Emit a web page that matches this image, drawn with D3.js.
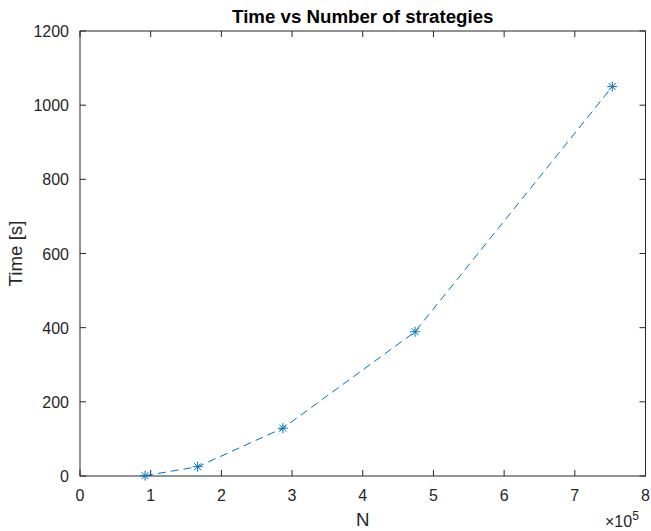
<!DOCTYPE html>
<html>
<head>
<meta charset="utf-8">
<script src="https://cdn.jsdelivr.net/npm/d3@7"></script>
<style>
body { margin: 0; background: #fff; }
text { font-family: "Liberation Sans", Arial, sans-serif; fill: #262626; }
</style>
</head>
<body>
<div id="chart"></div>
<script>
// N in units of 1e5, time in seconds
var nValues = [0.92, 1.665, 2.87, 4.74, 7.53];
var timeValues = [1, 25, 129, 389, 1050];
var xTicks = [0, 1, 2, 3, 4, 5, 6, 7, 8];
var yTicks = [0, 200, 400, 600, 800, 1000, 1200];

function mainInit() {
  var width = 651, height = 531;
  var m = {left: 80, right: 5.5, top: 31, bottom: 55};
  var svg = d3.select("#chart").append("svg")
    .attr("width", width).attr("height", height);

  var x = d3.scaleLinear().domain([0, 8]).range([m.left, width - m.right]);
  var y = d3.scaleLinear().domain([0, 1200]).range([height - m.bottom, m.top]);
  var axisColor = "#262626";
  var tickFont = "16px", labelFont = "18.7px";

  // box
  svg.append("rect")
    .attr("x", x(0)).attr("y", y(1200))
    .attr("width", x(8) - x(0)).attr("height", y(0) - y(1200))
    .attr("fill", "none").attr("stroke", axisColor).attr("stroke-width", 1);

  var g = svg.append("g");
  // x ticks (bottom and top, inward)
  xTicks.forEach(function(t) {
    g.append("line").attr("x1", x(t)).attr("x2", x(t))
      .attr("y1", y(0)).attr("y2", y(0) - 6).attr("stroke", axisColor);
    g.append("line").attr("x1", x(t)).attr("x2", x(t))
      .attr("y1", y(1200)).attr("y2", y(1200) + 6).attr("stroke", axisColor);
    g.append("text").attr("x", x(t)).attr("y", y(0) + 25)
      .attr("text-anchor", "middle").style("font-size", tickFont).text(t);
  });
  yTicks.forEach(function(t) {
    g.append("line").attr("x1", x(0)).attr("x2", x(0) + 6)
      .attr("y1", y(t)).attr("y2", y(t)).attr("stroke", axisColor);
    g.append("line").attr("x1", x(8)).attr("x2", x(8) - 6)
      .attr("y1", y(t)).attr("y2", y(t)).attr("stroke", axisColor);
    g.append("text").attr("x", x(0) - 11).attr("y", y(t) + 6)
      .attr("text-anchor", "end").style("font-size", tickFont).text(t);
  });

  // exponent label
  var ex = svg.append("text").attr("x", 605).attr("y", 527)
    .attr("text-anchor", "start").style("font-size", tickFont);
  ex.append("tspan").text("\u00d710");
  ex.append("tspan").attr("dy", -7).style("font-size", "12px").text("5");

  // titles
  svg.append("text").attr("x", (x(0) + x(8)) / 2).attr("y", 23)
    .attr("text-anchor", "middle").style("font-size", labelFont)
    .style("font-weight", "bold").style("fill", "#000")
    .text("Time vs Number of strategies");
  svg.append("text").attr("x", (x(0) + x(8)) / 2).attr("y", 526)
    .attr("text-anchor", "middle").style("font-size", labelFont).text("N");
  svg.append("text")
    .attr("transform", "translate(22," + ((y(0) + y(1200)) / 2) + ") rotate(-90)")
    .attr("text-anchor", "middle").style("font-size", labelFont).text("Time [s]");

  var pts = nValues.map(function(v, i) { return {n: v, t: timeValues[i]}; });
  var color = "#0072BD";

  var line = d3.line().x(function(d) { return x(d.n); }).y(function(d) { return y(d.t); });
  svg.append("path").datum(pts).attr("d", line)
    .attr("fill", "none").attr("stroke", color).attr("stroke-width", 1)
    .attr("stroke-dasharray", "8,5");

  // asterisk markers
  var r = 5;
  var mk = svg.selectAll(".mk").data(pts).enter().append("g")
    .attr("transform", function(d) { return "translate(" + x(d.n) + "," + y(d.t) + ")"; });
  [[-r, 0, r, 0], [0, -r, 0, r], [-r * 0.7, -r * 0.7, r * 0.7, r * 0.7], [-r * 0.7, r * 0.7, r * 0.7, -r * 0.7]]
    .forEach(function(s) {
      mk.append("line").attr("x1", s[0]).attr("y1", s[1]).attr("x2", s[2]).attr("y2", s[3])
        .attr("stroke", color).attr("stroke-width", 1);
    });
}

window.onload = mainInit;
</script>
</body>
</html>
